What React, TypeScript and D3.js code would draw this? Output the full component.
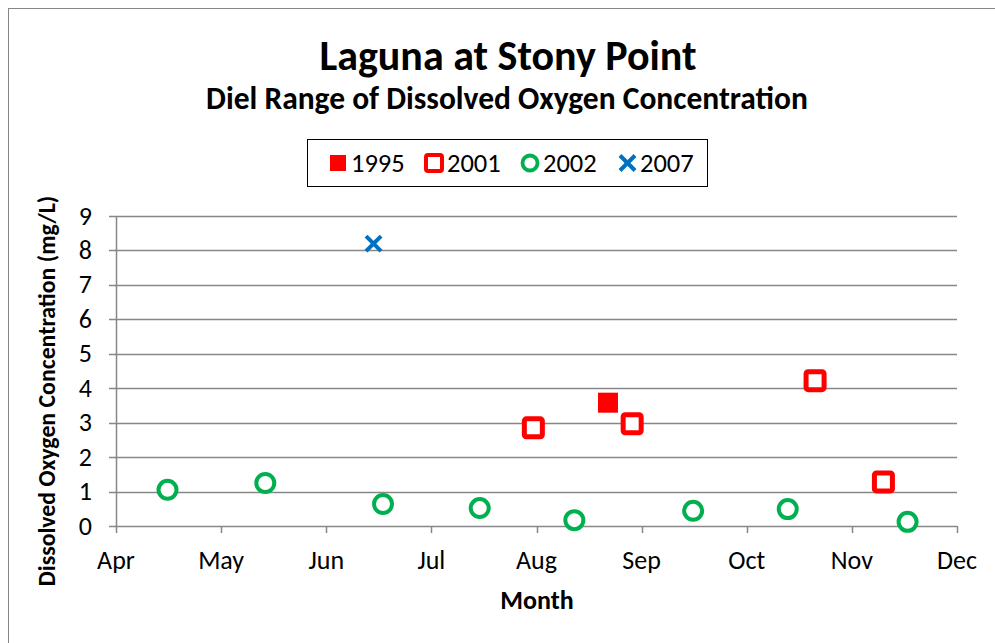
import React from "react";
import * as d3 from "d3";

// month number (4 = Apr 1 ... 12 = Dec 1) and value in mg/L
const monthLabels = ["Apr", "May", "Jun", "Jul", "Aug", "Sep", "Oct", "Nov", "Dec"];
const monthTicks = [4, 5, 6, 7, 8, 9, 10, 11, 12];
const yTicks = [0, 1, 2, 3, 4, 5, 6, 7, 8, 9];

const x1995 = [8.68];
const y1995 = [3.58];

const x2001 = [7.97, 8.91, 10.65, 11.3];
const y2001 = [2.85, 2.97, 4.22, 1.28];

const x2002 = [4.49, 5.42, 6.54, 7.46, 8.36, 9.49, 10.39, 11.53];
const y2002 = [1.05, 1.25, 0.64, 0.52, 0.17, 0.44, 0.49, 0.12];

const x2007 = [6.45];
const y2007 = [8.2];

const RED = "#FF0000";
const GREEN = "#00B050";
const BLUE = "#0070C0";
const GRID = "#878787";
const FONT = "Carlito, 'Liberation Sans', Arial, sans-serif";

const App = () => {
  const width = 995;
  const height = 643;
  const x = d3.scaleLinear().domain([4, 12]).range([116, 957]);
  const y = d3.scaleLinear().domain([0, 9]).range([526, 216]);

  const xMark = (cx: number, cy: number, s: number, w: number) => (
    <g stroke={BLUE} strokeWidth={w} strokeLinecap="butt">
      <line x1={cx - s} y1={cy - s} x2={cx + s} y2={cy + s} />
      <line x1={cx - s} y1={cy + s} x2={cx + s} y2={cy - s} />
    </g>
  );

  const legendY = 163;
  const lt = legendY + 9;

  return (
    <svg
      width={width}
      height={height}
      style={{ position: "absolute", left: 0, top: 0, background: "#fff" }}
      fontFamily={FONT}
    >
      {/* chart border */}
      <rect x={8.5} y={8.5} width={1000} height={700} fill="#fff" stroke="#868686" strokeWidth={1} />

      {/* titles */}
      <text x={508} y={70} textAnchor="middle" fontSize={42} fontWeight="bold" fill="#000">
        Laguna at Stony Point
      </text>
      <text x={507} y={109} textAnchor="middle" fontSize={31.5} fontWeight="bold" fill="#000">
        Diel Range of Dissolved Oxygen Concentration
      </text>

      {/* legend */}
      <rect x={307.5} y={139.5} width={400} height={47} fill="#fff" stroke="#000" strokeWidth={1} />
      <rect x={330} y={legendY - 8} width={16} height={16} fill={RED} />
      <text x={351} y={lt} fontSize={26.5} fill="#000">1995</text>
      <rect x={426} y={legendY - 8} width={16} height={16} rx={2} fill="#fff" stroke={RED} strokeWidth={4} />
      <text x={447} y={lt} fontSize={26.5} fill="#000">2001</text>
      <circle cx={530} cy={legendY} r={7.5} fill="#fff" stroke={GREEN} strokeWidth={3.8} />
      <text x={543} y={lt} fontSize={26.5} fill="#000">2002</text>
      {xMark(627.5, legendY, 7.5, 4)}
      <text x={640} y={lt} fontSize={26.5} fill="#000">2007</text>

      {/* gridlines */}
      {yTicks.map((t) => (
        <line key={`g${t}`} x1={109} x2={957} y1={Math.round(y(t)) + 0.5} y2={Math.round(y(t)) + 0.5} stroke={GRID} strokeWidth={1.5} />
      ))}
      {/* y axis */}
      <line x1={116.5} x2={116.5} y1={y(9)} y2={y(0)} stroke={GRID} strokeWidth={1.5} />
      {yTicks.map((t) => (
        <text key={`yl${t}`} x={92} y={y(t) + 8.5} textAnchor="end" fontSize={26} fill="#000">
          {t}
        </text>
      ))}
      {/* x axis ticks */}
      {monthTicks.map((m) => (
        <line key={`xt${m}`} x1={Math.round(x(m)) + 0.5} x2={Math.round(x(m)) + 0.5} y1={y(0)} y2={y(0) + 7} stroke={GRID} strokeWidth={1.5} />
      ))}
      {monthTicks.map((m, i) => (
        <text key={`xl${m}`} x={x(m)} y={569} textAnchor="middle" fontSize={26} fill="#000">
          {monthLabels[i]}
        </text>
      ))}

      {/* axis titles */}
      <text x={537} y={609} textAnchor="middle" fontSize={26} fontWeight="bold" fill="#000">
        Month
      </text>
      <text
        transform={`translate(55,391) rotate(-90)`}
        textAnchor="middle"
        fontSize={23.8}
        fontWeight="bold"
        fill="#000"
      >
        Dissolved Oxygen Concentration (mg/L)
      </text>

      {/* 2002 circles */}
      {x2002.map((d, i) => (
        <circle key={`c${i}`} cx={x(d)} cy={y(y2002[i])} r={9} fill="#fff" stroke={GREEN} strokeWidth={4} />
      ))}
      {/* 2001 open squares */}
      {x2001.map((d, i) => (
        <rect key={`s${i}`} x={x(d) - 9} y={y(y2001[i]) - 9} width={18} height={18} rx={2} fill="#fff" stroke={RED} strokeWidth={5} />
      ))}
      {/* 1995 filled squares */}
      {x1995.map((d, i) => (
        <rect key={`f${i}`} x={x(d) - 10} y={y(y1995[i]) - 10} width={20} height={20} fill={RED} />
      ))}
      {/* 2007 crosses */}
      {x2007.map((d, i) => (
        <g key={`x${i}`}>{xMark(x(d), y(y2007[i]), 7.5, 4)}</g>
      ))}
    </svg>
  );
};

export default App;
